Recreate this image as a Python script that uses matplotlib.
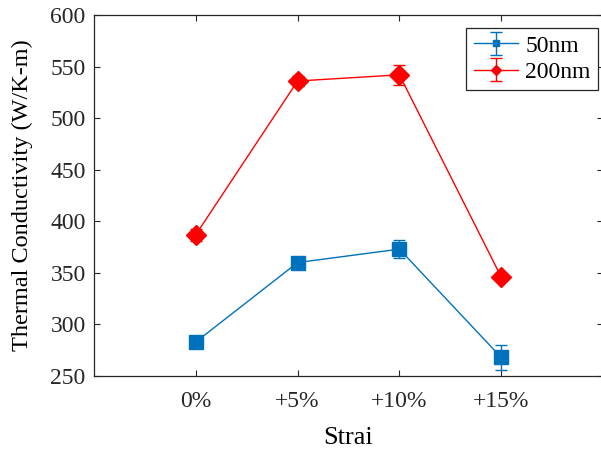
import matplotlib.pyplot as plt

strain_labels = ['0%', '+5%', '+10%', '+15%']
k_50nm = [283, 360, 373, 268]
err_50nm = [3, 3, 9, 12]
k_200nm = [387, 536, 542, 346]
err_200nm = [6, 5, 10, 4]

plt.rcParams['font.family'] = ['Liberation Serif', 'DejaVu Serif']

fig = plt.figure(figsize=(6.01, 4.5), dpi=100)
ax = fig.add_axes([94 / 601, 1 - 376 / 450, 509 / 601, 361 / 450])

x = list(range(1, len(strain_labels) + 1))
blue = '#0072BD'
red = '#FF0000'

ax.errorbar(x, k_50nm, yerr=err_50nm, color=blue, marker='s', markersize=9.5,
            linewidth=1.0, elinewidth=1.0, capsize=4, capthick=1.0, label='50nm')
ax.errorbar(x, k_200nm, yerr=err_200nm, color=red, marker='D', markersize=10.5,
            linewidth=1.0, elinewidth=1.0, capsize=4, capthick=1.0, label='200nm')

ax.set_xlim(0, 5)
ax.set_ylim(250, 600)
ax.set_xticks(x)
ax.set_xticklabels(strain_labels)
ax.set_yticks(range(250, 601, 50))

ax.tick_params(direction='in', top=True, right=True, labelsize=17,
               colors='#262626', length=4, width=0.8)
ax.tick_params(axis='x', pad=11)
ax.tick_params(axis='y', pad=6)
for s in ax.spines.values():
    s.set_color('#262626')
    s.set_linewidth(0.9)

ax.set_xlabel('Strai', fontsize=19)
ax.xaxis.set_label_coords(0.5, -0.142)
ax.set_ylabel('Thermal Conductivity (W/K-m)', fontsize=17.5)
ax.yaxis.set_label_coords(-0.12, 0.5)

leg = ax.legend(loc='upper right', bbox_to_anchor=(0.990, 0.964), fontsize=17,
                markerscale=0.5, fancybox=False, edgecolor='#262626',
                framealpha=1, borderaxespad=0, handlelength=1.9,
                borderpad=0.3, labelspacing=0.2, handletextpad=0.3)
leg.get_frame().set_linewidth(0.9)

fig.savefig('out.png', dpi=100)
